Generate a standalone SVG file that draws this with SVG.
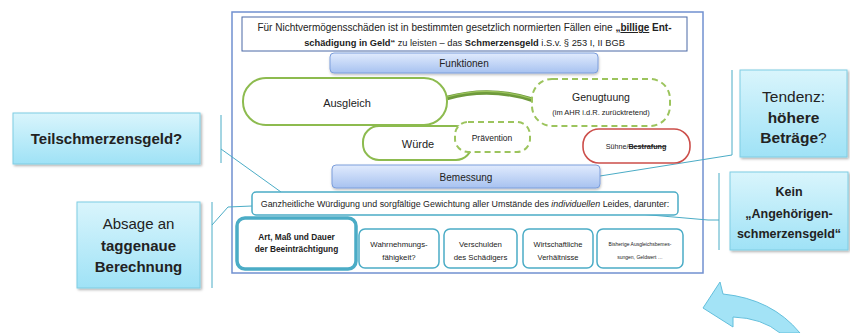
<svg xmlns="http://www.w3.org/2000/svg" width="850" height="333" viewBox="0 0 850 333">
<defs>
  <linearGradient id="bar" x1="0" y1="0" x2="0" y2="1">
    <stop offset="0" stop-color="#e1ebfd"/>
    <stop offset="1" stop-color="#a7c2f0"/>
  </linearGradient>
  <linearGradient id="call" x1="0" y1="0" x2="0" y2="1">
    <stop offset="0" stop-color="#d9f5fc"/>
    <stop offset="1" stop-color="#9fe2f6"/>
  </linearGradient>
  <filter id="sh" x="-10%" y="-10%" width="130%" height="130%">
    <feDropShadow dx="1.5" dy="1.5" stdDeviation="1.2" flood-color="#000" flood-opacity="0.3"/>
  </filter>
  <filter id="sh2" x="-10%" y="-20%" width="130%" height="150%">
    <feDropShadow dx="0.5" dy="1.5" stdDeviation="1" flood-color="#000" flood-opacity="0.25"/>
  </filter>
</defs>
<style>
  text { font-family: "Liberation Sans", Arial, sans-serif; fill: #222; }
  .b { font-weight: bold; }
  .bar { fill: url(#bar); stroke: #7c9edb; stroke-width: 1; filter: url(#sh2); }
  .call { fill: url(#call); stroke: #7fcde3; stroke-width: 1; filter: url(#sh); }
  .grn { fill: #fff; stroke: #8dbb4f; stroke-width: 2; }
  .dash { fill: #fff; stroke: #9cc45d; stroke-width: 2; stroke-dasharray: 6 4; }
  .teal { fill: #fff; stroke: #4bacc6; stroke-width: 1.5; }
  .ln { fill: none; stroke: #4bacc6; stroke-width: 1; }
  .c { text-anchor: middle; }
</style>

<g id="frame">
  <rect x="232" y="12" width="471" height="261" fill="#fff" stroke="#7090d0" stroke-width="1.5"/>
</g>

<g id="connectors">
  <path class="ln" d="M221,115 V163 M221,149 L281,192"/>
  <path class="ln" d="M212,202 V288 M212,225 L228,207 L252,206"/>
  <path class="ln" d="M732,70 V155 M732,155 L600,176"/>
  <path class="ln" d="M719,173 V250 M719,220 L708,220 L593,210"/>
  <path d="M447,98 Q490,86 533,100" fill="none" stroke="#6e9a3c" stroke-width="4.5"/>
  <path d="M447,97 Q490,85 533,99" fill="none" stroke="#9cc45d" stroke-width="1.2"/>
</g>

<g id="intro">
  <rect x="242" y="17" width="445" height="34" fill="#fff" stroke="#4a69a6" stroke-width="1"/>
  <text x="464.5" y="31" class="c" font-size="10">Für Nichtvermögensschäden ist in bestimmten gesetzlich normierten Fällen eine <tspan class="b">„</tspan><tspan class="b" text-decoration="underline">billige</tspan><tspan class="b"> Ent-</tspan></text>
  <text x="464.5" y="46" class="c" font-size="9.3"><tspan class="b">schädigung in Geld“</tspan> zu leisten – das <tspan class="b">Schmerzensgeld</tspan> i.S.v. § 253 I, II BGB</text>
</g>

<g id="funktionen">
  <rect class="bar" x="330" y="53" width="268" height="20" rx="4"/>
  <text x="464" y="67" class="c" font-size="10">Funktionen</text>
</g>

<g id="ausgleich">
  <rect class="grn" x="243" y="78" width="204" height="47" rx="23"/>
  <text x="347" y="107" class="c" font-size="11">Ausgleich</text>
</g>

<g id="genugtuung">
  <rect class="dash" x="532" y="79" width="138" height="47" rx="20"/>
  <text x="601" y="101" class="c" font-size="10.5">Genugtuung</text>
  <text x="601" y="115" class="c" font-size="7.5">(im AHR i.d.R. zurücktretend)</text>
</g>

<g id="wuerde">
  <rect class="grn" x="363" y="126" width="109" height="34" rx="16"/>
  <text x="418" y="148" class="c" font-size="11">Würde</text>
</g>

<g id="praevention">
  <rect class="dash" x="455" y="122" width="75" height="30" rx="13"/>
  <text x="492" y="141" class="c" font-size="8.5">Prävention</text>
</g>

<g id="suehne">
  <rect x="583" y="129" width="107" height="34" rx="16" fill="#fff" stroke="#cc4e4a" stroke-width="1.6"/>
  <text x="636" y="149" class="c" font-size="7.2">Sühne/<tspan class="b" text-decoration="line-through">Bestrafung</tspan></text>
</g>

<g id="bemessung">
  <rect class="bar" x="332" y="165" width="268" height="23" rx="4"/>
  <text x="466" y="181" class="c" font-size="10">Bemessung</text>
</g>

<g id="ganzheitlich">
  <rect class="teal" x="252" y="192" width="426" height="23" rx="4"/>
  <text x="465" y="207" class="c" font-size="8.9">Ganzheitliche Würdigung und sorgfältige Gewichtung aller Umstände des <tspan font-style="italic">individuellen</tspan> Leides, darunter:</text>
</g>

<g id="art">
  <rect x="237" y="218" width="119" height="51" rx="8" fill="#fff" stroke="#4bacc6" stroke-width="3.5"/>
  <text x="296.5" y="240" class="c b" font-size="8.3">Art, Maß und Dauer</text>
  <text x="296.5" y="252" class="c b" font-size="8.3">der Beeinträchtigung</text>
</g>

<g id="wahrnehmung">
  <rect class="teal" x="359" y="229" width="80" height="39" rx="6"/>
  <text x="399" y="247" class="c" font-size="7.8">Wahrnehmungs-</text>
  <text x="399" y="260" class="c" font-size="7.8">fähigkeit?</text>
</g>

<g id="verschulden">
  <rect class="teal" x="444" y="229" width="73" height="39" rx="6"/>
  <text x="480.5" y="247" class="c" font-size="7.8">Verschulden</text>
  <text x="480.5" y="260" class="c" font-size="7.8">des Schädigers</text>
</g>

<g id="wirtschaft">
  <rect class="teal" x="523" y="229" width="70" height="39" rx="6"/>
  <text x="558" y="247" class="c" font-size="7.5">Wirtschaftliche</text>
  <text x="558" y="260" class="c" font-size="7.5">Verhältnisse</text>
</g>

<g id="bisherige">
  <rect class="teal" x="597" y="229" width="86" height="39" rx="6"/>
  <text x="640" y="246" class="c" font-size="5">Bisherige Ausgleichsbemes-</text>
  <text x="640" y="259" class="c" font-size="5">sungen, Geldwert …</text>
</g>

<g id="teilschmerzensgeld">
  <rect class="call" x="13" y="113" width="187" height="51"/>
  <text x="106.5" y="144" class="c b" font-size="15">Teilschmerzensgeld?</text>
</g>

<g id="absage">
  <rect class="call" x="77" y="202" width="123" height="86"/>
  <text x="138.5" y="229" class="c" font-size="15">Absage an</text>
  <text x="138.5" y="251" class="c b" font-size="15">taggenaue</text>
  <text x="138.5" y="272" class="c b" font-size="15">Berechnung</text>
</g>

<g id="tendenz">
  <rect class="call" x="740" y="70" width="107" height="87"/>
  <text x="793.5" y="102" class="c" font-size="15.5">Tendenz:</text>
  <text x="793.5" y="123" class="c b" font-size="15.5">höhere</text>
  <text x="793.5" y="143" class="c" font-size="15.5"><tspan class="b">Beträge</tspan>?</text>
</g>

<g id="kein">
  <rect class="call" x="730" y="172" width="118" height="78"/>
  <text x="789" y="196" class="c b" font-size="12.5">Kein</text>
  <text x="789" y="218" class="c b" font-size="12.5">„Angehörigen-</text>
  <text x="789" y="238" class="c b" font-size="12.5">schmerzensgeld“</text>
</g>

<g id="arrow">
  <path d="M703,308 L720,282 L723,294 Q772,299 800,333 L780,333 Q762,318 733,317 L733,327 Z" fill="#a3e3f6" stroke="#63bfdc" stroke-width="1"/>
</g>
</svg>
